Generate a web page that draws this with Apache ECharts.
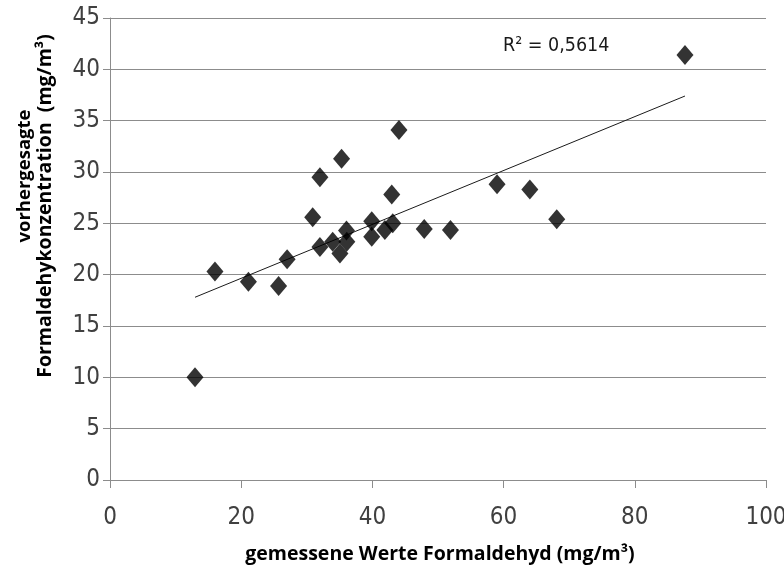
<!DOCTYPE html>
<html>
<head>
<meta charset="utf-8">
<script src="https://cdn.jsdelivr.net/npm/echarts@6/dist/echarts.min.js"></script>
<style>
  html, body { margin: 0; padding: 0; background: #fff; }
  #chart { width: 784px; height: 575px; }
</style>
</head>
<body>
<div id="chart"></div>
<script>
// Measured formaldehyde (x) vs. predicted concentration (y), mg/m³
const measured = [12.96, 16.0, 21.1, 25.7, 27.0, 30.9, 32.0, 32.0, 35.3, 33.95, 35.05, 36.05, 36.1,
                  39.9, 39.9, 41.9, 42.95, 43.1, 44.05, 47.9, 51.9, 59.0, 64.0, 68.1, 87.65];
const predicted = [10.0, 20.3, 19.3, 18.9, 21.5, 25.6, 29.5, 22.7, 31.3, 23.2, 22.05, 24.3, 23.2,
                   25.2, 23.7, 24.35, 27.8, 25.0, 34.1, 24.45, 24.35, 28.8, 28.3, 25.4, 41.4];
// Linear trend line endpoints
const trendX = [12.96, 87.65];
const trendY = [17.8, 37.4];
const xTicks = [0, 20, 40, 60, 80, 100];
const yTicks = [0, 5, 10, 15, 20, 25, 30, 35, 40, 45];
const rSquaredLabel = 'R² = 0,5614';
const xTitle = 'gemessene Werte Formaldehyd (mg/m³)';
const yTitleLines = ['vorhergesagte', 'Formaldehykonzentration  (mg/m³)'];

const points = measured.map((x, i) => [x, predicted[i]]);
const trend = trendX.map((x, i) => [x, trendY[i]]);

const chart = echarts.init(document.getElementById('chart'));
const narrow = '"DejaVu Sans Condensed", "Open Sans", sans-serif';
const tickFont = { fontFamily: narrow, fontSize: 24, color: '#404040' };
const titleFamily = '"Open Sans", sans-serif';

chart.setOption({
  animation: false,
  grid: { left: 110, right: 18, top: 18, bottom: 95, containLabel: false, outerBoundsMode: 'none' },
  xAxis: {
    type: 'value', min: xTicks[0], max: xTicks[xTicks.length - 1], interval: 20,
    axisLine: { show: true, lineStyle: { color: '#8c8c8c', width: 1 } },
    axisTick: { show: true, length: 8, lineStyle: { color: '#8c8c8c' } },
    axisLabel: Object.assign({ margin: 26, hideOverlap: false }, tickFont),
    splitLine: { show: false }
  },
  yAxis: {
    type: 'value', min: yTicks[0], max: yTicks[yTicks.length - 1], interval: 5,
    axisLine: { show: true, lineStyle: { color: '#8c8c8c', width: 1 } },
    axisTick: { show: true, length: 7, lineStyle: { color: '#8c8c8c' } },
    axisLabel: Object.assign({ margin: 10 }, tickFont),
    splitLine: { show: true, lineStyle: { color: '#8c8c8c', width: 1 } }
  },
  series: [
    {
      type: 'line', data: trend, symbol: 'none', silent: true,
      lineStyle: { color: '#1a1a1a', width: 1 }, z: 2
    },
    {
      type: 'scatter', data: points, symbol: 'diamond', symbolSize: [17, 20],
      itemStyle: { color: '#000' }, z: 3
    }
  ],
  graphic: [
    {
      type: 'text', left: 503, top: 36,
      style: { text: rSquaredLabel, font: '19.5px ' + narrow, fill: '#1a1a1a' }
    },
    {
      type: 'text', x: 440, y: 554,
      style: { text: xTitle, font: 'bold 19.5px ' + titleFamily, fill: '#000', align: 'center', verticalAlign: 'middle' }
    },
    {
      type: 'text', x: 25, y: 176, rotation: Math.PI / 2,
      style: { text: yTitleLines[0], font: 'bold 18.5px ' + titleFamily, fill: '#000', align: 'center', verticalAlign: 'middle' }
    },
    {
      type: 'text', x: 45, y: 206, rotation: Math.PI / 2,
      style: { text: yTitleLines[1], font: 'bold 19.5px ' + titleFamily, fill: '#000', align: 'center', verticalAlign: 'middle' }
    }
  ]
});
</script>
</body>
</html>
